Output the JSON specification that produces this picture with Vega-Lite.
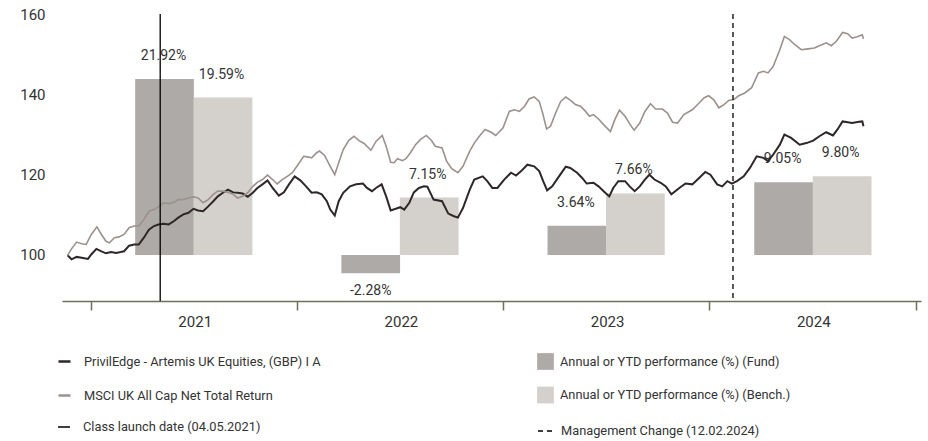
{
  "$schema": "https://vega.github.io/schema/vega-lite/v6.json",
  "width": 859,
  "height": 287,
  "autosize": {"type": "none"},
  "padding": {"left": 62, "top": 14, "right": 7, "bottom": 140},
  "config": {
    "font": "Roboto",
    "view": {"stroke": null},
    "axis": {"labelFont": "Roboto", "labelFontSize": 15, "labelColor": "#333333", "title": null},
    "axisY": {"domain": false, "ticks": false, "gridColor": "#d9d9d9", "gridWidth": 1.2, "labelPadding": 17},
    "axisX": {"grid": false, "domainColor": "#6f6f5a", "domainWidth": 1.5, "tickColor": "#6f6f5a", "tickWidth": 1.5, "tickSize": 9, "labelPadding": 4, "labelOffset": 104, "labelOverlap": false, "labelFlush": false, "labelBound": false},
    "legend": {"orient": "none", "labelFont": "Roboto", "labelFontSize": 12.8, "labelColor": "#333333", "padding": 0, "titlePadding": 0, "labelLimit": 400}
  },
  "datasets": {
    "bars": [
      {"year": "2021-07-02", "fund": 21.92, "bench": 19.59},
      {"year": "2022-07-02", "fund": -2.28, "bench": 7.15},
      {"year": "2023-07-02", "fund": 3.64, "bench": 7.66},
      {"year": "2024-07-02", "fund": 9.05, "bench": 9.80}
    ],
    "fund": [
      {"d":"2020-11-21","v":99.8},{"d":"2020-11-28","v":98.8},{"d":"2020-12-07","v":99.4},{"d":"2020-12-16","v":99.2},{"d":"2020-12-27","v":98.9},
      {"d":"2021-01-02","v":100.0},{"d":"2021-01-11","v":101.4},{"d":"2021-01-20","v":100.8},{"d":"2021-01-28","v":100.3},{"d":"2021-02-06","v":100.6},
      {"d":"2021-02-15","v":100.4},{"d":"2021-02-23","v":100.6},{"d":"2021-03-01","v":100.8},{"d":"2021-03-10","v":102.2},{"d":"2021-03-19","v":102.5},
      {"d":"2021-03-27","v":102.5},{"d":"2021-04-05","v":104.2},{"d":"2021-04-14","v":106.2},{"d":"2021-04-23","v":107.1},{"d":"2021-05-01","v":107.5},
      {"d":"2021-05-10","v":107.7},{"d":"2021-05-19","v":107.5},{"d":"2021-05-28","v":108.3},{"d":"2021-06-05","v":109.2},{"d":"2021-06-14","v":110.0},
      {"d":"2021-06-23","v":110.4},{"d":"2021-07-02","v":111.4},{"d":"2021-07-10","v":111.0},{"d":"2021-07-19","v":110.8},{"d":"2021-07-28","v":112.0},
      {"d":"2021-08-06","v":113.3},{"d":"2021-08-14","v":114.5},{"d":"2021-08-23","v":115.4},{"d":"2021-09-01","v":116.2},{"d":"2021-09-10","v":115.5},
      {"d":"2021-09-18","v":115.4},{"d":"2021-09-27","v":115.2},{"d":"2021-10-06","v":114.4},{"d":"2021-10-15","v":115.4},{"d":"2021-10-23","v":116.6},
      {"d":"2021-11-01","v":117.5},{"d":"2021-11-10","v":118.5},{"d":"2021-11-19","v":116.6},{"d":"2021-11-30","v":114.7},{"d":"2021-12-09","v":115.5},
      {"d":"2021-12-18","v":117.5},{"d":"2021-12-28","v":119.5},{"d":"2022-01-07","v":118.5},{"d":"2022-01-16","v":117.2},{"d":"2022-01-27","v":115.4},
      {"d":"2022-02-05","v":115.5},{"d":"2022-02-14","v":115.0},{"d":"2022-02-23","v":113.3},{"d":"2022-03-01","v":111.2},{"d":"2022-03-09","v":109.7},
      {"d":"2022-03-16","v":113.3},{"d":"2022-03-24","v":115.4},{"d":"2022-04-05","v":117.0},{"d":"2022-04-16","v":117.5},{"d":"2022-04-28","v":117.7},
      {"d":"2022-05-05","v":116.6},{"d":"2022-05-14","v":115.8},{"d":"2022-05-21","v":116.6},{"d":"2022-05-31","v":117.5},{"d":"2022-06-08","v":114.5},
      {"d":"2022-06-16","v":111.0},{"d":"2022-06-25","v":111.4},{"d":"2022-07-03","v":111.8},{"d":"2022-07-10","v":111.2},{"d":"2022-07-19","v":112.9},
      {"d":"2022-07-27","v":115.5},{"d":"2022-08-05","v":116.6},{"d":"2022-08-14","v":117.0},{"d":"2022-08-20","v":116.9},{"d":"2022-08-31","v":113.7},
      {"d":"2022-09-15","v":113.3},{"d":"2022-09-26","v":110.2},{"d":"2022-10-05","v":109.6},{"d":"2022-10-13","v":109.2},{"d":"2022-10-22","v":111.6},
      {"d":"2022-11-03","v":116.2},{"d":"2022-11-11","v":118.7},{"d":"2022-11-26","v":119.5},{"d":"2022-12-04","v":118.3},{"d":"2022-12-13","v":116.6},
      {"d":"2022-12-22","v":116.6},{"d":"2023-01-03","v":118.7},{"d":"2023-01-15","v":120.4},{"d":"2023-01-24","v":119.7},{"d":"2023-02-02","v":120.8},
      {"d":"2023-02-13","v":122.4},{"d":"2023-02-25","v":122.0},{"d":"2023-03-06","v":120.8},{"d":"2023-03-13","v":118.3},{"d":"2023-03-20","v":116.0},
      {"d":"2023-03-29","v":117.0},{"d":"2023-04-10","v":119.5},{"d":"2023-04-22","v":121.9},{"d":"2023-04-30","v":121.6},{"d":"2023-05-12","v":120.4},
      {"d":"2023-05-21","v":119.1},{"d":"2023-05-29","v":117.7},{"d":"2023-06-10","v":117.9},{"d":"2023-06-19","v":117.0},{"d":"2023-06-28","v":115.8},
      {"d":"2023-07-08","v":114.5},{"d":"2023-07-15","v":116.6},{"d":"2023-07-24","v":118.3},{"d":"2023-08-05","v":118.3},{"d":"2023-08-13","v":117.0},
      {"d":"2023-08-22","v":115.8},{"d":"2023-08-31","v":117.0},{"d":"2023-09-09","v":118.7},{"d":"2023-09-17","v":119.9},{"d":"2023-09-26","v":118.7},
      {"d":"2023-10-07","v":117.9},{"d":"2023-10-16","v":117.0},{"d":"2023-10-26","v":115.0},{"d":"2023-11-09","v":116.6},{"d":"2023-11-20","v":117.7},
      {"d":"2023-12-02","v":117.5},{"d":"2023-12-14","v":119.1},{"d":"2023-12-25","v":120.6},{"d":"2024-01-03","v":119.9},{"d":"2024-01-15","v":117.5},
      {"d":"2024-01-24","v":117.0},{"d":"2024-02-02","v":118.3},{"d":"2024-02-10","v":117.7},{"d":"2024-02-19","v":118.3},{"d":"2024-03-02","v":119.5},
      {"d":"2024-03-13","v":121.6},{"d":"2024-03-25","v":124.5},{"d":"2024-04-06","v":124.1},{"d":"2024-04-14","v":123.3},{"d":"2024-04-23","v":124.9},
      {"d":"2024-05-05","v":127.4},{"d":"2024-05-13","v":129.9},{"d":"2024-05-25","v":129.1},{"d":"2024-06-09","v":127.4},{"d":"2024-06-21","v":127.8},
      {"d":"2024-07-03","v":128.4},{"d":"2024-07-14","v":129.5},{"d":"2024-07-26","v":130.5},{"d":"2024-08-07","v":129.7},{"d":"2024-08-15","v":131.2},
      {"d":"2024-08-24","v":133.2},{"d":"2024-09-02","v":133.0},{"d":"2024-09-10","v":132.8},{"d":"2024-09-22","v":133.1},{"d":"2024-09-28","v":133.2},
      {"d":"2024-09-30","v":132.0}
    ],
    "bench": [
      {"d":"2020-11-21","v":99.8},{"d":"2020-11-28","v":101.4},{"d":"2020-12-07","v":103.1},{"d":"2020-12-16","v":102.7},{"d":"2020-12-24","v":102.5},
      {"d":"2021-01-02","v":105.0},{"d":"2021-01-12","v":106.9},{"d":"2021-01-20","v":105.0},{"d":"2021-01-28","v":103.3},{"d":"2021-02-03","v":102.9},
      {"d":"2021-02-12","v":104.2},{"d":"2021-02-20","v":104.4},{"d":"2021-03-01","v":105.0},{"d":"2021-03-10","v":106.7},{"d":"2021-03-19","v":107.1},
      {"d":"2021-03-27","v":107.1},{"d":"2021-04-05","v":108.7},{"d":"2021-04-14","v":110.8},{"d":"2021-04-23","v":111.2},{"d":"2021-05-01","v":111.9},
      {"d":"2021-05-10","v":112.9},{"d":"2021-05-19","v":112.7},{"d":"2021-05-28","v":113.0},{"d":"2021-06-05","v":113.7},{"d":"2021-06-14","v":113.7},
      {"d":"2021-06-23","v":114.1},{"d":"2021-07-02","v":114.4},{"d":"2021-07-10","v":114.1},{"d":"2021-07-19","v":112.9},{"d":"2021-07-28","v":113.7},
      {"d":"2021-08-06","v":115.0},{"d":"2021-08-14","v":115.8},{"d":"2021-08-23","v":115.8},{"d":"2021-09-01","v":115.5},{"d":"2021-09-10","v":115.0},
      {"d":"2021-09-18","v":114.1},{"d":"2021-09-27","v":114.5},{"d":"2021-10-06","v":115.4},{"d":"2021-10-15","v":117.0},{"d":"2021-10-23","v":118.0},
      {"d":"2021-11-01","v":118.7},{"d":"2021-11-10","v":119.8},{"d":"2021-11-19","v":118.7},{"d":"2021-11-27","v":117.6},{"d":"2021-12-06","v":118.7},
      {"d":"2021-12-15","v":119.5},{"d":"2021-12-24","v":120.4},{"d":"2022-01-01","v":122.0},{"d":"2022-01-13","v":124.5},{"d":"2022-01-22","v":124.3},
      {"d":"2022-01-27","v":124.1},{"d":"2022-02-05","v":125.4},{"d":"2022-02-10","v":125.8},{"d":"2022-02-19","v":124.7},{"d":"2022-03-01","v":122.0},
      {"d":"2022-03-09","v":119.9},{"d":"2022-03-16","v":122.9},{"d":"2022-03-24","v":126.2},{"d":"2022-04-03","v":128.5},{"d":"2022-04-12","v":129.5},
      {"d":"2022-04-21","v":128.4},{"d":"2022-04-30","v":127.7},{"d":"2022-05-12","v":126.0},{"d":"2022-05-21","v":128.2},{"d":"2022-06-01","v":129.7},
      {"d":"2022-06-08","v":127.0},{"d":"2022-06-16","v":123.0},{"d":"2022-06-22","v":122.9},{"d":"2022-06-28","v":123.9},{"d":"2022-07-07","v":123.4},
      {"d":"2022-07-13","v":123.9},{"d":"2022-07-21","v":125.4},{"d":"2022-07-30","v":127.4},{"d":"2022-08-08","v":128.7},{"d":"2022-08-18","v":129.7},
      {"d":"2022-08-27","v":128.5},{"d":"2022-09-03","v":127.0},{"d":"2022-09-15","v":126.6},{"d":"2022-09-23","v":123.3},{"d":"2022-10-02","v":121.4},
      {"d":"2022-10-13","v":120.4},{"d":"2022-10-22","v":122.0},{"d":"2022-11-03","v":125.8},{"d":"2022-11-11","v":127.8},{"d":"2022-11-20","v":129.5},
      {"d":"2022-11-30","v":131.2},{"d":"2022-12-11","v":130.5},{"d":"2022-12-19","v":129.7},{"d":"2023-01-01","v":131.6},{"d":"2023-01-12","v":135.7},
      {"d":"2023-01-21","v":136.1},{"d":"2023-01-30","v":135.7},{"d":"2023-02-08","v":137.0},{"d":"2023-02-16","v":138.8},{"d":"2023-02-25","v":139.3},
      {"d":"2023-03-06","v":138.2},{"d":"2023-03-12","v":135.3},{"d":"2023-03-19","v":131.3},{"d":"2023-03-26","v":132.0},{"d":"2023-04-04","v":135.3},
      {"d":"2023-04-13","v":138.2},{"d":"2023-04-22","v":139.3},{"d":"2023-04-30","v":138.5},{"d":"2023-05-09","v":137.4},{"d":"2023-05-18","v":137.0},
      {"d":"2023-05-27","v":135.7},{"d":"2023-06-03","v":134.5},{"d":"2023-06-10","v":134.9},{"d":"2023-06-19","v":133.8},{"d":"2023-06-28","v":132.4},
      {"d":"2023-07-10","v":130.7},{"d":"2023-07-18","v":133.7},{"d":"2023-07-26","v":136.0},{"d":"2023-08-05","v":134.5},{"d":"2023-08-14","v":132.4},
      {"d":"2023-08-21","v":131.0},{"d":"2023-08-31","v":132.8},{"d":"2023-09-09","v":135.7},{"d":"2023-09-19","v":137.6},{"d":"2023-09-28","v":136.3},
      {"d":"2023-10-10","v":136.3},{"d":"2023-10-19","v":135.3},{"d":"2023-10-28","v":133.0},{"d":"2023-11-06","v":132.8},{"d":"2023-11-17","v":134.9},
      {"d":"2023-12-02","v":136.1},{"d":"2023-12-14","v":137.8},{"d":"2023-12-23","v":139.1},{"d":"2023-12-31","v":139.6},{"d":"2024-01-09","v":138.6},
      {"d":"2024-01-18","v":136.6},{"d":"2024-01-27","v":137.4},{"d":"2024-02-05","v":138.5},{"d":"2024-02-13","v":138.6},{"d":"2024-02-22","v":139.6},
      {"d":"2024-03-04","v":140.3},{"d":"2024-03-16","v":141.6},{"d":"2024-03-28","v":145.3},{"d":"2024-04-06","v":145.7},{"d":"2024-04-14","v":145.3},
      {"d":"2024-04-23","v":146.9},{"d":"2024-05-05","v":151.1},{"d":"2024-05-13","v":154.4},{"d":"2024-05-22","v":153.6},{"d":"2024-05-31","v":152.4},
      {"d":"2024-06-12","v":151.1},{"d":"2024-06-24","v":151.3},{"d":"2024-07-05","v":151.5},{"d":"2024-07-14","v":152.1},{"d":"2024-07-26","v":152.8},
      {"d":"2024-08-04","v":152.1},{"d":"2024-08-13","v":153.2},{"d":"2024-08-24","v":155.4},{"d":"2024-09-02","v":155.1},{"d":"2024-09-10","v":154.0},
      {"d":"2024-09-19","v":154.3},{"d":"2024-09-28","v":154.8},{"d":"2024-09-30","v":153.8}
    ]
  },
  "layer": [
    {
      "data": {"name": "bars"},
      "transform": [
        {"calculate": "replace(format(datum.fund, '.2f'), '\u2212', '-') + '%'", "as": "fundLabel"},
        {"calculate": "format(datum.bench, '.2f') + '%'", "as": "benchLabel"}
      ],
      "layer": [
        {
          "mark": {"type": "bar", "width": 58.7, "xOffset": -29},
          "encoding": {
            "x": {"field": "year", "type": "temporal", "title": null,
              "scale": {"domain": [{"year": 2020, "month": 11, "date": 20}, {"year": 2025, "month": 1, "date": 1}]},
              "axis": {"values": [{"year": 2021, "month": 1, "date": 1}, {"year": 2022, "month": 1, "date": 1}, {"year": 2023, "month": 1, "date": 1}, {"year": 2024, "month": 1, "date": 1}, {"year": 2025, "month": 1, "date": 1}],
                "labelExpr": "year(datum.value) > 2024 ? '' : timeFormat(datum.value, '%Y')"}},
            "y": {"field": "fund", "type": "quantitative", "scale": {"domain": [-5.73, 30], "nice": false}, "axis": null},
            "fill": {"datum": "Annual or YTD performance (%) (Fund)", "type": "nominal",
              "scale": {"domain": ["Annual or YTD performance (%) (Fund)", "Annual or YTD performance (%) (Bench.)"], "range": ["#aeaaa8", "#d4d0cc"]},
              "legend": {"title": null, "orient": "none", "legendX": 475, "legendY": 339, "symbolType": "square", "symbolSize": 280, "symbolStrokeWidth": 0, "rowPadding": 16.5, "labelOffset": 6}}
          }
        },
        {
          "mark": {"type": "bar", "width": 58.7, "xOffset": 29.5},
          "encoding": {
            "x": {"field": "year", "type": "temporal"},
            "y": {"field": "bench", "type": "quantitative", "scale": {"domain": [-5.73, 30], "nice": false}, "axis": null},
            "fill": {"datum": "Annual or YTD performance (%) (Bench.)", "type": "nominal"}
          }
        },
        {
          "transform": [{"filter": "datum.fund >= 0"}],
          "mark": {"type": "text", "xOffset": -30, "dy": -23, "fontSize": 14, "color": "#333333"},
          "encoding": {
            "x": {"field": "year", "type": "temporal"},
            "y": {"field": "fund", "type": "quantitative", "scale": {"domain": [-5.73, 30], "nice": false}, "axis": null},
            "text": {"field": "fundLabel"}
          }
        },
        {
          "transform": [{"filter": "datum.fund < 0"}],
          "mark": {"type": "text", "xOffset": -29, "dy": 18, "fontSize": 14, "color": "#333333"},
          "encoding": {
            "x": {"field": "year", "type": "temporal"},
            "y": {"field": "fund", "type": "quantitative", "scale": {"domain": [-5.73, 30], "nice": false}, "axis": null},
            "text": {"field": "fundLabel"}
          }
        },
        {
          "mark": {"type": "text", "xOffset": 28, "dy": -23, "fontSize": 14, "color": "#333333"},
          "encoding": {
            "x": {"field": "year", "type": "temporal"},
            "y": {"field": "bench", "type": "quantitative", "scale": {"domain": [-5.73, 30], "nice": false}, "axis": null},
            "text": {"field": "benchLabel"}
          }
        }
      ]
    },
    {
      "layer": [
        {
          "data": {"name": "fund"},
          "mark": {"type": "line", "strokeWidth": 2},
          "encoding": {
            "x": {"field": "d", "type": "temporal"},
            "y": {"field": "v", "type": "quantitative", "scale": {"domain": [88.4, 160], "nice": false, "zero": false}, "axis": {"orient": "left", "values": [100, 120, 140, 160]}},
            "stroke": {"datum": "PrivilEdge - Artemis UK Equities, (GBP) I A", "type": "nominal",
              "scale": {"domain": ["PrivilEdge - Artemis UK Equities, (GBP) I A", "MSCI UK All Cap Net Total Return"], "range": ["#2e2628", "#9c918c"]},
              "legend": {"title": null, "orient": "none", "legendX": -5, "legendY": 340, "symbolType": "stroke", "symbolSize": 144, "symbolStrokeWidth": 2.5, "rowPadding": 19, "labelOffset": 12}}
          }
        },
        {
          "data": {"name": "bench"},
          "mark": {"type": "line", "strokeWidth": 1.6},
          "encoding": {
            "x": {"field": "d", "type": "temporal"},
            "y": {"field": "v", "type": "quantitative", "scale": {"domain": [88.4, 160], "nice": false, "zero": false}},
            "stroke": {"datum": "MSCI UK All Cap Net Total Return", "type": "nominal"}
          }
        },
        {
          "data": {"values": [{"d": "2021-05-04", "n": "Class launch date (04.05.2021)"}]},
          "mark": {"type": "rule", "color": "black", "strokeWidth": 1.3},
          "encoding": {
            "x": {"field": "d", "type": "temporal"},
            "strokeDash": {"field": "n", "type": "nominal", "scale": {"range": [[1, 0]]},
              "legend": {"title": null, "orient": "none", "legendX": -5, "legendY": 406, "symbolType": "stroke", "symbolSize": 144, "symbolStrokeColor": "black", "symbolStrokeWidth": 1.5, "labelOffset": 12}}
          }
        },
        {
          "data": {"values": [{"d": "2024-02-12", "m": "Management Change (12.02.2024)"}]},
          "mark": {"type": "rule", "color": "black", "strokeWidth": 1.3},
          "encoding": {
            "x": {"field": "d", "type": "temporal"},
            "strokeDash": {"field": "m", "type": "nominal", "scale": {"range": [[5, 4]]},
              "legend": {"title": null, "orient": "none", "legendX": 475, "legendY": 408, "symbolType": "stroke", "symbolSize": 256, "symbolStrokeColor": "black", "symbolStrokeWidth": 1.5, "labelOffset": 6}}
          }
        }
      ],
      "resolve": {"scale": {"strokeDash": "independent"}, "legend": {"strokeDash": "independent"}}
    }
  ],
  "resolve": {"scale": {"y": "independent"}}
}
